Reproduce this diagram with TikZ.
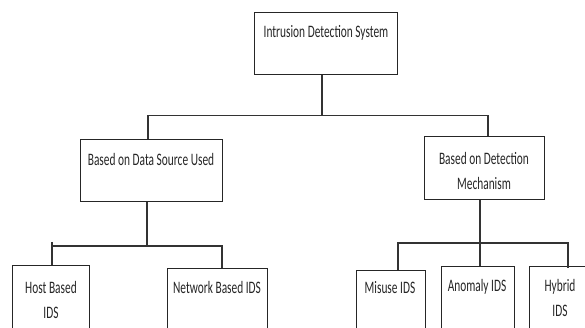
\documentclass[tikz,border=0pt]{standalone}
\usepackage{fontspec}
\setmainfont{Carlito}
\usepackage{graphicx}
\usetikzlibrary{calc}
\newcommand{\lbl}[1]{\scalebox{0.65}[1]{\begin{tabular}[t]{@{}c@{}}#1\end{tabular}}}
\begin{document}
\begin{tikzpicture}[x=1pt,y=-1pt,
  box/.style={draw=black!85, line width=1.3pt, fill=white, rectangle, inner sep=0pt, anchor=north west},
  txt/.style={anchor=base, inner sep=0pt, text=black!85, font=\fontsize{17.5}{25}\selectfont},
  conn/.style={draw=black!80, line width=1.1pt}]
\useasboundingbox (0,0) rectangle (585,328);
\clip (0,0) rectangle (585,328);
% boxes
\node[box, minimum width=143pt, minimum height=62pt] (ids) at (254,12) {};
\node[box, minimum width=142pt, minimum height=62pt] (data) at (80,139) {};
\node[box, minimum width=120pt, minimum height=63pt] (mech) at (424,136) {};
\node[box, minimum width=77pt, minimum height=80pt] (host) at (12,265) {};
\node[box, minimum width=100pt, minimum height=80pt] (net) at (167,268) {};
\node[box, minimum width=69pt, minimum height=80pt] (mis) at (356,270) {};
\node[box, minimum width=73pt, minimum height=80pt] (ano) at (441,266) {};
\node[box, minimum width=70pt, minimum height=80pt] (hyb) at (529,266) {};
% labels
\node[txt] (tids) at (326,37.5) {\lbl{Intrusion Detection System}};
\node[txt] (tdata) at (151,165.5) {\lbl{Based on Data Source Used}};
\node[txt] (tmech) at (484,164.5) {\lbl{Based on Detection\\Mechanism}};
\node[txt] (thost) at (51,293.5) {\lbl{Host Based\\IDS}};
\node[txt] (tnet) at (217,293.5) {\lbl{Network Based IDS}};
\node[txt] (tmis) at (390,293.5) {\lbl{Misuse IDS}};
\node[txt] (tano) at (477,291.5) {\lbl{Anomaly IDS}};
\node[txt] (thyb) at (560,291.5) {\lbl{Hybrid\\IDS}};
% junction coordinates
\coordinate (j0) at (322,115.5);
\coordinate (b0l) at (148,115.5);
\coordinate (b0r) at (488,115.5);
\coordinate (j1) at (147,246);
\coordinate (b1l) at (52,246);
\coordinate (b1r) at (222,246);
\coordinate (j2) at (480,243);
\coordinate (b2l) at (398,243);
\coordinate (b2r) at (568,243);
% connectors
\draw[conn] (ids.south -| j0) -- (j0);
\draw[conn] (data.north -| b0l) -- (b0l) -- (b0r) -- (mech.north -| b0r);
\draw[conn] (data.south -| j1) -- (j1);
\draw[conn] ($(b1l)+(0,-4)$) -- (host.north -| b1l);
\draw[conn] (b1l) -- (b1r) -- (net.north -| b1r);
\draw[conn] (mech.south -| j2) -- (j2);
\draw[conn] (mis.north -| b2l) -- (b2l) -- (b2r) -- ($(hyb.north -| b2r)+(0,2)$);
\draw[conn] (j2) -- (ano.north -| j2);
\end{tikzpicture}
\end{document}
